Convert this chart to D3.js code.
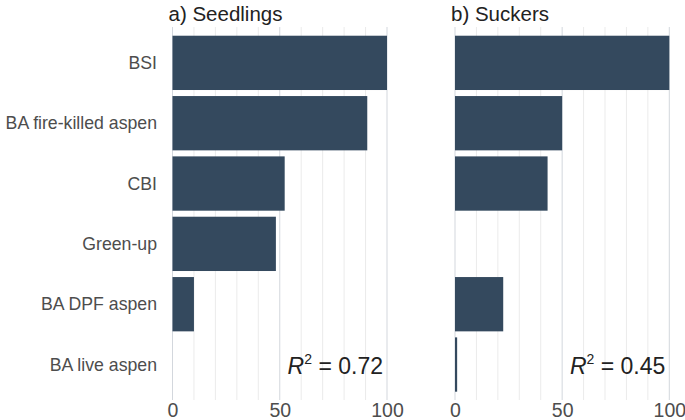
<!DOCTYPE html>
<html>
<head>
<meta charset="utf-8">
<script src="https://cdn.jsdelivr.net/npm/d3@7"></script>
<style>
  body { margin: 0; background: #fff; }
  svg { font-family: Arial, "Liberation Sans", sans-serif; }
</style>
</head>
<body>
<svg id="chart" width="685" height="420"></svg>
<script>
// categories, top to bottom
var categories = ["BSI", "BA fire-killed aspen", "CBI", "Green-up", "BA DPF aspen", "BA live aspen"];
var seedlings = [100, 90.8, 52.3, 48.2, 10, 0];
var suckers = [100, 50, 43.2, 0, 22.5, 1];
var panelTitles = ["a) Seedlings", "b) Suckers"];
var r2Values = ["0.72", "0.45"];
var xTicks = [0, 50, 100];
var gridTicks = [0, 10, 20, 30, 40, 50, 60, 70, 80, 90, 100];

var svg = d3.select("#chart");
var barColor = "#34495e";

var y = d3.scaleBand()
  .domain(categories)
  .range([32.7, 394.7])
  .paddingInner(0.1)
  .paddingOuter(0.05);

var panels = [
  { x0: 172.5, x1: 387, values: seedlings },
  { x0: 455, x1: 669.3, values: suckers }
];

panels.forEach(function(p, i) {
  var x = d3.scaleLinear().domain([0, 100]).range([p.x0, p.x1]);
  var g = svg.append("g");

  //gridlines, darker at the labelled ticks
  g.selectAll(".grid")
    .data(gridTicks)
    .enter().append("line")
    .attr("x1", d => x(d)).attr("x2", d => x(d))
    .attr("y1", 27).attr("y2", 400)
    .attr("stroke", d => d % 50 === 0 ? "#d3d7dd" : "#ebebeb")
    .attr("stroke-width", 1);

  g.selectAll(".bar")
    .data(p.values)
    .enter().append("rect")
    .attr("x", x(0))
    .attr("y", (d, j) => y(categories[j]))
    .attr("width", d => x(d) - x(0))
    .attr("height", y.bandwidth())
    .attr("fill", barColor);

  //x axis tick labels
  var axis = d3.axisBottom(x).tickValues(xTicks).tickSize(0).tickPadding(0);
  var ax = g.append("g").attr("transform", "translate(0,400)").call(axis);
  ax.select(".domain").remove();
  ax.selectAll("text")
    .attr("dy", "0")
    .attr("y", 16.5)
    .attr("font-size", 19.5)
    .attr("fill", "#4d4d4d")
    .attr("font-family", "Arial, 'Liberation Sans', sans-serif");

  svg.append("text")
    .attr("x", p.x0 - 4)
    .attr("y", 21)
    .attr("font-size", 20.5)
    .attr("fill", "#222")
    .text(panelTitles[i]);

  var r2 = svg.append("text")
    .attr("x", p.x1 - 4)
    .attr("y", 374)
    .attr("text-anchor", "end")
    .attr("font-size", 23)
    .attr("fill", "#222");
  r2.append("tspan").attr("font-style", "italic").text("R");
  r2.append("tspan").attr("font-size", 14).attr("dy", -10).text("2");
  r2.append("tspan").attr("dy", 10).text(" = " + r2Values[i]);
});

//category labels on the left
svg.append("g").selectAll("text")
  .data(categories)
  .enter().append("text")
  .attr("x", 157)
  .attr("y", d => y(d) + y.bandwidth() / 2)
  .attr("dy", "0.35em")
  .attr("text-anchor", "end")
  .attr("font-size", 17.7)
  .attr("fill", "#4d4d4d")
  .text(d => d);
</script>
</body>
</html>
